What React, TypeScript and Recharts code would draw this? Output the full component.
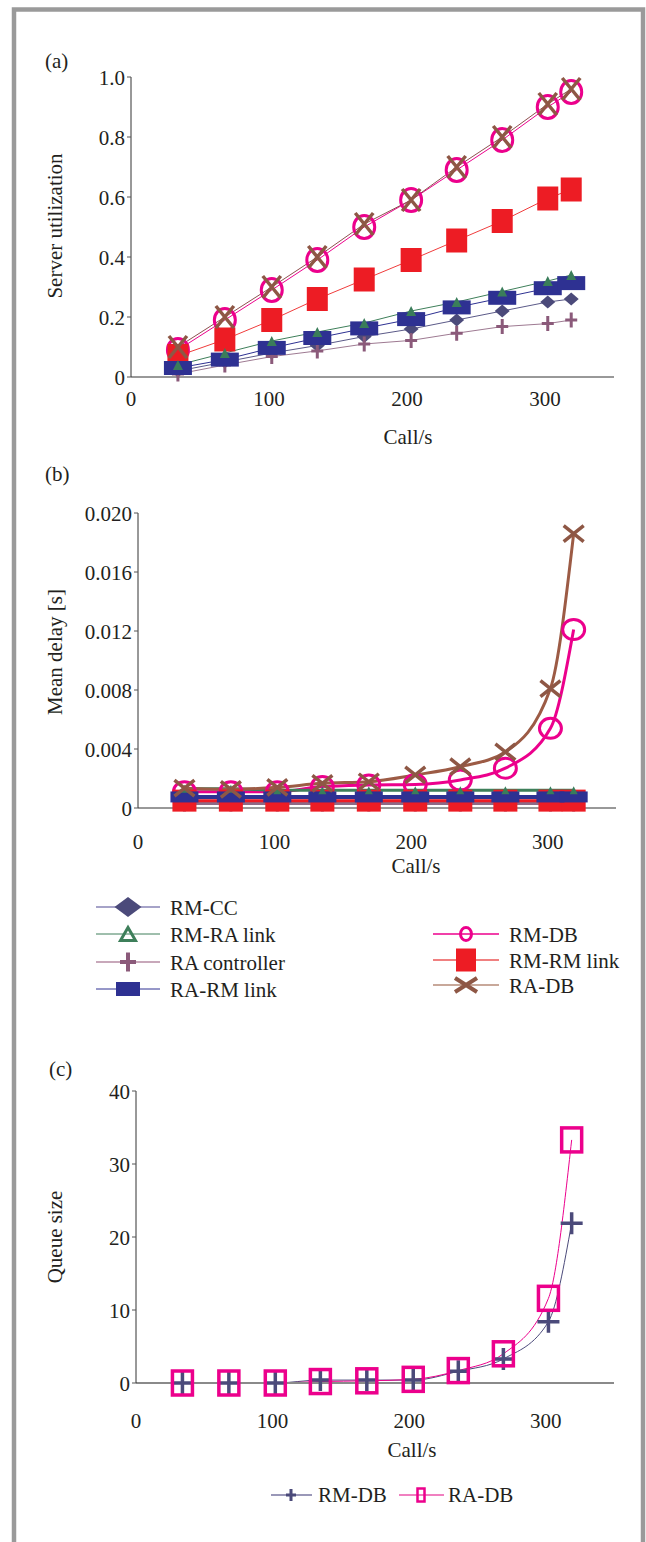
import React from 'react';
import { LineChart, Line, XAxis, YAxis } from 'recharts';

// shared x values (call rate, Call/s)
const calls = [34, 68, 102, 135, 169, 203, 236, 269, 302, 319];

// (a) server utilization
const utilRmCc = [0.02, 0.05, 0.08, 0.105, 0.135, 0.16, 0.19, 0.22, 0.25, 0.26];
const utilRmRaLink = [0.04, 0.08, 0.12, 0.15, 0.18, 0.22, 0.25, 0.285, 0.32, 0.34];
const utilRaController = [0.01, 0.04, 0.068, 0.087, 0.11, 0.122, 0.146, 0.168, 0.178, 0.19];
const utilRaRmLink = [0.03, 0.058, 0.097, 0.13, 0.162, 0.193, 0.232, 0.264, 0.296, 0.313];
const utilRmDb = [0.09, 0.19, 0.29, 0.39, 0.5, 0.59, 0.69, 0.79, 0.9, 0.95];
const utilRmRmLink = [0.07, 0.125, 0.19, 0.26, 0.325, 0.39, 0.455, 0.52, 0.595, 0.625];
const utilRaDb = [0.1, 0.2, 0.3, 0.4, 0.51, 0.59, 0.7, 0.8, 0.91, 0.96];

// (b) mean delay [s]
const delayRmCc = [0.0007, 0.0007, 0.0007, 0.0007, 0.0007, 0.0007, 0.0007, 0.0007, 0.0007, 0.0007];
const delayRmRaLink = [0.0013, 0.0013, 0.0012, 0.0012, 0.0012, 0.0012, 0.0012, 0.0012, 0.0012, 0.0012];
const delayRaController = [0.0003, 0.0003, 0.0003, 0.0003, 0.0003, 0.0003, 0.0003, 0.0003, 0.0003, 0.0003];
const delayRaRmLink = [0.00075, 0.00075, 0.00075, 0.00075, 0.00075, 0.00075, 0.00075, 0.00075, 0.00075, 0.00075];
const delayRmDb = [0.0011, 0.0011, 0.0011, 0.00145, 0.00156, 0.0016, 0.0019, 0.0027, 0.0054, 0.0121];
const delayRmRmLink = [0.0005, 0.0005, 0.0005, 0.0005, 0.0005, 0.0005, 0.0005, 0.0005, 0.0005, 0.0005];
const delayRaDb = [0.00134, 0.00127, 0.0014, 0.00167, 0.00178, 0.00224, 0.0028, 0.0038, 0.0081, 0.0186];

// (c) queue size
const queueRmDb = [0, 0, 0, 0.4, 0.4, 0.4, 1.6, 3.3, 8.4, 21.9];
const queueRaDb = [0, 0, 0, 0.2, 0.3, 0.5, 1.7, 4.0, 11.6, 33.3];

const xTicks = [0, 100, 200, 300];
const utilTicks = [0, 0.2, 0.4, 0.6, 0.8, 1.0];
const delayTicks = [0, 0.004, 0.008, 0.012, 0.016, 0.02];
const queueTicks = [0, 10, 20, 30, 40];

const utilData = calls.map((c, i) => ({
  calls: c,
  rmCc: utilRmCc[i],
  rmRaLink: utilRmRaLink[i],
  raController: utilRaController[i],
  raRmLink: utilRaRmLink[i],
  rmDb: utilRmDb[i],
  rmRmLink: utilRmRmLink[i],
  raDb: utilRaDb[i],
}));

const delayData = calls.map((c, i) => ({
  calls: c,
  rmCc: delayRmCc[i],
  rmRaLink: delayRmRaLink[i],
  raController: delayRaController[i],
  raRmLink: delayRaRmLink[i],
  rmDb: delayRmDb[i],
  rmRmLink: delayRmRmLink[i],
  raDb: delayRaDb[i],
}));

const queueData = calls.map((c, i) => ({ calls: c, rmDb: queueRmDb[i], raDb: queueRaDb[i] }));

const FONT = '"Liberation Serif", "Times New Roman", serif';
const INK = '#231F20';

type Shape = (cx: number, cy: number) => React.ReactNode;

const diamond = (w: number, h: number, fill: string): Shape => (cx, cy) => (
  <polygon points={`${cx},${cy - h / 2} ${cx + w / 2},${cy} ${cx},${cy + h / 2} ${cx - w / 2},${cy}`} fill={fill} />
);
const triangle = (w: number, h: number, color: string, hollow = false, sw = 0): Shape => (cx, cy) => (
  <polygon
    points={`${cx},${cy - h / 2} ${cx + w / 2},${cy + h / 2} ${cx - w / 2},${cy + h / 2}`}
    fill={hollow ? 'none' : color}
    stroke={hollow ? color : 'none'}
    strokeWidth={sw}
  />
);
const plus = (w: number, h: number, color: string, sw: number): Shape => (cx, cy) => (
  <path d={`M${cx - w / 2},${cy}H${cx + w / 2}M${cx},${cy - h / 2}V${cy + h / 2}`} stroke={color} strokeWidth={sw} fill="none" />
);
const box = (w: number, h: number, color: string, hollow = false, sw = 0): Shape => (cx, cy) => (
  <rect
    x={cx - w / 2}
    y={cy - h / 2}
    width={w}
    height={h}
    fill={hollow ? 'none' : color}
    stroke={hollow ? color : 'none'}
    strokeWidth={sw}
  />
);
const ring = (rx: number, ry: number, color: string, sw: number): Shape => (cx, cy) => (
  <ellipse cx={cx} cy={cy} rx={rx} ry={ry} fill="none" stroke={color} strokeWidth={sw} />
);
const cross = (w: number, h: number, color: string, sw: number): Shape => (cx, cy) => (
  <path
    d={`M${cx - w / 2},${cy - h / 2}L${cx + w / 2},${cy + h / 2}M${cx + w / 2},${cy - h / 2}L${cx - w / 2},${cy + h / 2}`}
    stroke={color}
    strokeWidth={sw}
    fill="none"
  />
);

const dotOf = (shape: Shape) => (p: any) => {
  const key = `m-${p.index}`;
  if (p.cx == null || p.cy == null) return <g key={key} />;
  return <g key={key}>{shape(p.cx, p.cy)}</g>;
};

interface SeriesDef {
  key: string;
  name: string;
  color: string;
  width: number;
  shape: Shape;
}

// drawing order follows the overlap seen in the figure
const utilSeries: SeriesDef[] = [
  { key: 'rmCc', name: 'RM-CC', color: '#5B5A88', width: 1, shape: diamond(15, 13, '#4B4A7A') },
  { key: 'raController', name: 'RA controller', color: '#9E7A92', width: 1, shape: plus(12, 15, '#8B5A7A', 3) },
  { key: 'rmDb', name: 'RM-DB', color: '#EC008C', width: 1, shape: ring(10.5, 11.5, '#EC008C', 3) },
  { key: 'rmRmLink', name: 'RM-RM link', color: '#F03C3C', width: 1, shape: box(21, 24, '#ED1C24') },
  { key: 'raRmLink', name: 'RA-RM link', color: '#2E3192', width: 1, shape: box(28, 14, '#2E3192') },
  { key: 'rmRaLink', name: 'RM-RA link', color: '#3E7F5A', width: 1, shape: triangle(10, 10, '#3A7D5A') },
  { key: 'raDb', name: 'RA-DB', color: '#8E4F4F', width: 1, shape: cross(18, 22, '#8E5745', 3.5) },
];

const delaySeries: SeriesDef[] = [
  { key: 'rmCc', name: 'RM-CC', color: '#4B4A7A', width: 3, shape: diamond(15, 13, '#4B4A7A') },
  { key: 'raController', name: 'RA controller', color: '#8E6A86', width: 3, shape: plus(12, 16, '#8B5A7A', 3) },
  { key: 'rmDb', name: 'RM-DB', color: '#EC008C', width: 3, shape: ring(11, 10, '#EC008C', 3) },
  { key: 'rmRmLink', name: 'RM-RM link', color: '#ED1C24', width: 3, shape: box(24, 22, '#ED1C24') },
  { key: 'raRmLink', name: 'RA-RM link', color: '#2E3192', width: 4, shape: box(28, 11, '#2E3192') },
  { key: 'rmRaLink', name: 'RM-RA link', color: '#3E7F5A', width: 3, shape: triangle(8, 8, '#3A7D5A') },
  { key: 'raDb', name: 'RA-DB', color: '#9C5B45', width: 3, shape: cross(20, 16, '#8E5745', 3.5) },
];

const queueSeries: SeriesDef[] = [
  { key: 'rmDb', name: 'RM-DB', color: '#4B4A7A', width: 1, shape: plus(22, 22, '#4B4A7A', 3.5) },
  { key: 'raDb', name: 'RA-DB', color: '#EC008C', width: 1, shape: box(20, 24, '#EC008C', true, 3.5) },
];

const txt = { fontFamily: FONT, fontSize: 21, fill: INK } as const;

const xTick = (p: any) => (
  <text key={`xt-${p.index}`} x={p.x} y={p.y} dy="0.71em" textAnchor="middle" {...txt}>
    {p.payload.value}
  </text>
);

const yTickOf = (fmt: (v: number) => string) => (p: any) => (
  <text key={`yt-${p.index}`} x={p.x} y={p.y} dy="0.36em" textAnchor="end" {...txt}>
    {fmt(p.payload.value)}
  </text>
);

interface PanelProps {
  top: number;
  height: number;
  margin: { top: number; right: number; bottom: number; left: number };
  yWidth: number;
  data: any[];
  series: SeriesDef[];
  yDomain: [number, number];
  yTicks: number[];
  yFormat: (v: number) => string;
  xLabelGap: number;
  curve: 'linear' | 'monotone';
  xAxisColor?: string;
  xAxisWidth?: number;
}

const Panel = ({ top, height, margin, yWidth, data, series, yDomain, yTicks, yFormat, xLabelGap, curve, xAxisColor = '#333', xAxisWidth = 1 }: PanelProps) => (
  <div style={{ position: 'absolute', left: 0, top, fontFamily: FONT }}>
    <LineChart width={646} height={height} data={data} margin={margin}>
      <XAxis
        type="number"
        dataKey="calls"
        domain={[0, 350]}
        ticks={xTicks}
        interval={0}
        height={50}
        tickLine={false}
        tickSize={4}
        tickMargin={xLabelGap}
        axisLine={{ stroke: xAxisColor, strokeWidth: xAxisWidth }}
        tick={xTick}
      />
      <YAxis
        type="number"
        domain={yDomain}
        ticks={yTicks}
        interval={0}
        width={yWidth}
        tickSize={4}
        tickMargin={2}
        tickLine={{ stroke: '#555' }}
        axisLine={{ stroke: '#333' }}
        tick={yTickOf(yFormat)}
      />
      {series.map((s) => (
        <Line
          key={s.key}
          type={curve}
          dataKey={s.key}
          name={s.name}
          stroke={s.color}
          strokeWidth={s.width}
          dot={dotOf(s.shape)}
          activeDot={false}
          isAnimationActive={false}
        />
      ))}
    </LineChart>
  </div>
);

const LegendRow = ({ x1, x2, y, line, lineWidth, shape, label }: { x1: number; x2: number; y: number; line: string; lineWidth: number; shape: Shape; label: string }) => (
  <g>
    <line x1={x1} x2={x2} y1={y} y2={y} stroke={line} strokeWidth={lineWidth} />
    {shape((x1 + x2) / 2, y)}
    <text x={x2 + 10} y={y + 8} {...txt}>{label}</text>
  </g>
);

export default function App() {
  return (
    <div style={{ position: 'absolute', left: 0, top: 0, width: 646, height: 1542, background: '#fff', overflow: 'hidden', fontFamily: FONT }}>
      <Panel
        top={0}
        height={460}
        margin={{ top: 77, right: 32, bottom: 33, left: 0 }}
        yWidth={131}
        data={utilData}
        series={utilSeries}
        yDomain={[0, 1]}
        yTicks={utilTicks}
        yFormat={(v) => (v === 0 ? '0' : v.toFixed(1))}
        xLabelGap={10}
        curve="linear"
      />
      <Panel
        top={460}
        height={440}
        margin={{ top: 53, right: 30, bottom: 42, left: 0 }}
        yWidth={138}
        data={delayData}
        series={delaySeries}
        yDomain={[0, 0.02]}
        yTicks={delayTicks}
        yFormat={(v) => (v === 0 ? '0' : v.toFixed(3))}
        xLabelGap={22}
        curve="monotone"
      />
      <Panel
        top={1040}
        height={440}
        margin={{ top: 51, right: 32, bottom: 47, left: 0 }}
        yWidth={136}
        data={queueData}
        series={queueSeries}
        yDomain={[0, 40]}
        yTicks={queueTicks}
        yFormat={(v) => String(v)}
        xLabelGap={26}
        curve="monotone"
        xAxisColor="#8a8a8a"
        xAxisWidth={2}
      />
      <svg width={646} height={1542} style={{ position: 'absolute', left: 0, top: 0, pointerEvents: 'none' }}>
        <rect x={14} y={9.5} width={629} height={1560} fill="none" stroke="#9a9a9a" strokeWidth={4.5} />

        <text x={45} y={68} {...txt}>(a)</text>
        <text x={45} y={481} {...txt}>(b)</text>
        <text x={49} y={1076} {...txt}>(c)</text>

        <text x={62} y={226} transform="rotate(-90 62 226)" textAnchor="middle" {...txt}>Server utilization</text>
        <text x={62} y={652} transform="rotate(-90 62 652)" textAnchor="middle" {...txt}>Mean delay [s]</text>
        <text x={62} y={1237} transform="rotate(-90 62 1237)" textAnchor="middle" {...txt}>Queue size</text>

        <text x={408} y={444} textAnchor="middle" {...txt}>Call/s</text>
        <text x={416} y={873} textAnchor="middle" {...txt}>Call/s</text>
        <text x={412} y={1457} textAnchor="middle" {...txt}>Call/s</text>

        {/* legend shared by (a) and (b) */}
        <LegendRow x1={96} x2={160} y={907} line="#A6A3C8" lineWidth={2} shape={diamond(27, 20, '#4B4A7A')} label="RM-CC" />
        <LegendRow x1={96} x2={160} y={934} line="#3E7F5A" lineWidth={1} shape={triangle(15, 13, '#3E7F5A', true, 3)} label="RM-RA link" />
        <LegendRow x1={96} x2={160} y={962} line="#C8A8BA" lineWidth={2} shape={plus(16, 19, '#8B5A7A', 4)} label="RA controller" />
        <LegendRow x1={96} x2={160} y={989} line="#2E3192" lineWidth={1} shape={box(24, 14, '#2E3192')} label="RA-RM link" />
        <LegendRow x1={433} x2={499} y={934} line="#EC008C" lineWidth={1.5} shape={ring(5.5, 6.5, '#EC008C', 3)} label="RM-DB" />
        <LegendRow x1={433} x2={499} y={960} line="#F08080" lineWidth={2} shape={box(20, 23, '#ED1C24')} label="RM-RM link" />
        <LegendRow x1={433} x2={499} y={985} line="#C8A89A" lineWidth={2} shape={cross(22, 14, '#8E5745', 4)} label="RA-DB" />

        {/* legend of (c) */}
        <line x1={271} x2={312} y1={1495} y2={1495} stroke="#9A98B8" strokeWidth={2} />
        {plus(10, 12, '#4B4A7A', 3)(291, 1495)}
        <text x={318} y={1502} {...txt}>RM-DB</text>
        <line x1={399} x2={444} y1={1495} y2={1495} stroke="#F080C0" strokeWidth={2} />
        {box(7, 13, '#EC008C', true, 2.5)(421, 1495)}
        <text x={448} y={1502} {...txt}>RA-DB</text>
      </svg>
    </div>
  );
}
